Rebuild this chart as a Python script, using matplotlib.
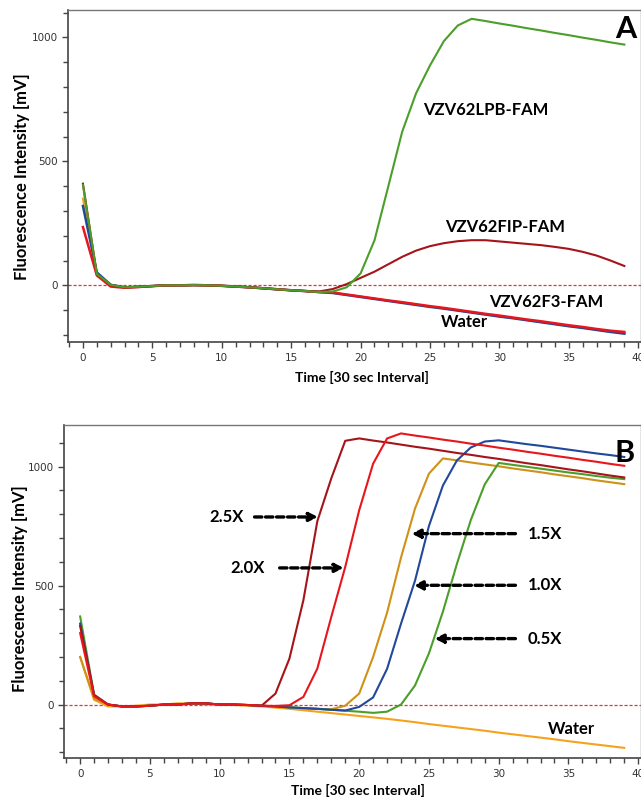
import numpy as np
import matplotlib.pyplot as plt
from matplotlib.ticker import MultipleLocator

# ciclos (intervalos de 30 s)
tempo = list(range(40))

# ---- Painel A ----
base_a = [0, 0, 2, -8, -6, -3, 0, 0, 1, 0, -2, -5, -8, -12, -16, -20, -23, -27]
agua_a = [320, 52] + base_a[2:] + [-31, -39, -47, -55, -63, -71, -79, -87, -94, -102, -110,
                                   -118, -126, -133, -141, -149, -157, -165, -172, -180, -188, -195]
laranja_a = [350, 48] + base_a[2:] + [-30, -38, -46, -54, -62, -70, -78, -86, -93, -101, -109,
                                      -117, -125, -132, -140, -148, -156, -164, -171, -179, -187, -193]
f3_a = [235, 40] + [-5, -10, -7, -3, 0, 0, 1, 0, -2, -5, -8, -12, -16, -20, -23, -27] + \
       [-29, -37, -45, -53, -61, -68, -76, -84, -91, -99, -107,
        -115, -122, -130, -138, -145, -153, -161, -168, -176, -183, -188]
fip_a = [410, 45] + base_a[2:17] + [-25, -15, 5, 30, 55, 85, 115, 140, 158, 170, 178, 182,
                                    182, 177, 172, 167, 162, 155, 147, 135, 120, 100, 78]
lpb_a = [405, 46] + base_a[2:] + [-25, -8, 48, 181, 400, 620, 775, 887, 985, 1048, 1075,
                                  1066, 1056, 1047, 1037, 1028, 1018, 1009, 999, 990, 980, 971]

# ---- Painel B ----
base_b = [0, -8, -8, -5, 0, 0, 5, 5, 0, 0, -2, -5]
agua_b = [200, 20] + base_b[1:] + [-8, -13, -18, -24, -30, -36, -42, -48, -54, -60, -67, -74,
                                   -82, -89, -96, -103, -110, -118, -125, -132, -139, -146,
                                   -154, -161, -168, -175, -182]
x25_b = [330, 40] + base_b + [46, 193, 438, 770, 950, 1108, 1118, 1109, 1101, 1092, 1083,
                              1075, 1066, 1057, 1049, 1040, 1032, 1023, 1014, 1006, 997, 988,
                              980, 971, 962, 954]
x20_b = [300, 35] + base_b + [-6, -3, 32, 151, 368, 578, 816, 1012, 1118, 1139, 1130, 1122,
                              1113, 1105, 1096, 1088, 1079, 1071, 1062, 1054, 1045, 1037, 1028,
                              1020, 1011, 1003]
x15_b = [200, 25] + base_b + [-8, -12, -15, -18, -20, -5, 46, 200, 386, 618, 823, 970, 1034,
                              1026, 1017, 1009, 1001, 992, 984, 976, 967, 959, 951, 942, 934,
                              926]
x10_b = [340, 38] + base_b + [-8, -12, -15, -18, -22, -25, -10, 30, 150, 340, 520, 750, 920,
                              1025, 1080, 1105, 1110, 1102, 1094, 1087, 1079, 1071, 1063, 1055,
                              1048, 1040]
x05_b = [370, 42] + base_b + [-8, -12, -15, -18, -22, -26, -30, -35, -30, 0, 80, 215, 390,
                              590, 775, 925, 1015, 1007, 999, 991, 983, 975, 968, 960, 953,
                              947]

cor_verde = "#4a9e2a"
cor_vermelho = "#e8161c"
cor_vinho = "#a4141a"
cor_azul = "#21489a"
cor_ouro = "#cf9118"
cor_laranja = "#f7a21c"

fig = plt.figure(figsize=(6.41, 7.98), dpi=100)
ax_a = fig.add_axes([0.106, 0.571, 0.894, 0.416])
ax_b = fig.add_axes([0.100, 0.050, 0.900, 0.417])

# Painel A
ax_a.plot(tempo, laranja_a, color=cor_laranja, lw=1.5)
ax_a.plot(tempo, agua_a, color=cor_azul, lw=1.8)
ax_a.plot(tempo, f3_a, color=cor_vermelho, lw=1.8)
ax_a.plot(tempo, fip_a, color=cor_vinho, lw=1.5)
ax_a.plot(tempo, lpb_a, color=cor_verde, lw=1.5)

# Painel B
ax_b.plot(tempo, agua_b, color=cor_laranja, lw=1.5)
ax_b.plot(tempo, x15_b, color=cor_ouro, lw=1.5)
ax_b.plot(tempo, x05_b, color=cor_verde, lw=1.5)
ax_b.plot(tempo, x10_b, color=cor_azul, lw=1.5)
ax_b.plot(tempo, x25_b, color=cor_vinho, lw=1.5)
ax_b.plot(tempo, x20_b, color=cor_vermelho, lw=1.5)

fonte = "Lato"
for ax in (ax_a, ax_b):
    ax.axhline(0, color="#d9393c", lw=0.9, ls=(0, (2.5, 1.5)), zorder=0)
    ax.xaxis.set_major_locator(MultipleLocator(5))
    ax.xaxis.set_minor_locator(MultipleLocator(1))
    ax.yaxis.set_major_locator(MultipleLocator(500))
    ax.yaxis.set_minor_locator(MultipleLocator(100))
    ax.tick_params(which="both", direction="out", color="#444", labelsize=7.5,
                   labelcolor="#333", width=1)
    ax.tick_params(which="major", length=4)
    ax.tick_params(which="minor", length=3.5)
    for lado in ("left", "bottom"):
        ax.spines[lado].set_color("#444")
        ax.spines[lado].set_linewidth(1.2)
    for lado in ("top", "right"):
        ax.spines[lado].set_color("#777")
        ax.spines[lado].set_linewidth(1.0)
    ax.set_ylabel("Fluorescence Intensity [mV]", fontsize=12, fontweight="bold", family=fonte)
    ax.set_xlabel("Time [30 sec Interval]", fontsize=10, fontweight="bold", family=fonte)

ax_a.set_xlim(-1.08, 40.2)
ax_a.set_ylim(-230, 1109)
ax_b.set_xlim(-1.15, 40.2)
ax_b.set_ylim(-225, 1173)

ax_a.yaxis.set_label_coords(-0.066, 0.5)
ax_a.xaxis.set_label_coords(0.513, -0.087)
ax_b.yaxis.set_label_coords(-0.062, 0.51)
ax_b.xaxis.set_label_coords(0.51, -0.078)

rot = dict(fontsize=12, fontweight="bold", family=fonte, ha="center", va="center")
ax_a.text(29.0, 706, "VZV62LPB-FAM", **rot)
ax_a.text(30.4, 235, "VZV62FIP-FAM", **rot)
ax_a.text(33.4, -67, "VZV62F3-FAM", **rot)
ax_a.text(27.5, -148, "Water", **rot)
ax_a.text(39.1, 1035, "A", fontsize=22, fontweight="bold", family=fonte, ha="center", va="center")

ax_b.text(39.0, 1058, "B", fontsize=22, fontweight="bold", family=fonte, ha="center", va="center")
ax_b.text(35.2, -101, "Water", **rot)

seta = dict(arrowstyle="-|>,head_length=0.5,head_width=0.25", lw=2.4,
            ls=(0, (2.2, 1.1)), color="black", shrinkA=0, shrinkB=0)
ax_b.text(10.5, 788, "2.5X", **rot)
ax_b.annotate("", xy=(17.05, 788), xytext=(12.5, 788), arrowprops=seta)
ax_b.text(12.0, 574, "2.0X", **rot)
ax_b.annotate("", xy=(18.9, 574), xytext=(14.3, 574), arrowprops=seta)
for rotulo, y, ponta in [("1.5X", 718, 23.75), ("1.0X", 501, 23.9), ("0.5X", 277, 25.4)]:
    ax_b.text(33.3, y, rotulo, **rot)
    ax_b.annotate("", xy=(ponta, y), xytext=(31.2, y), arrowprops=seta)

plt.savefig("out.png", dpi=100)
